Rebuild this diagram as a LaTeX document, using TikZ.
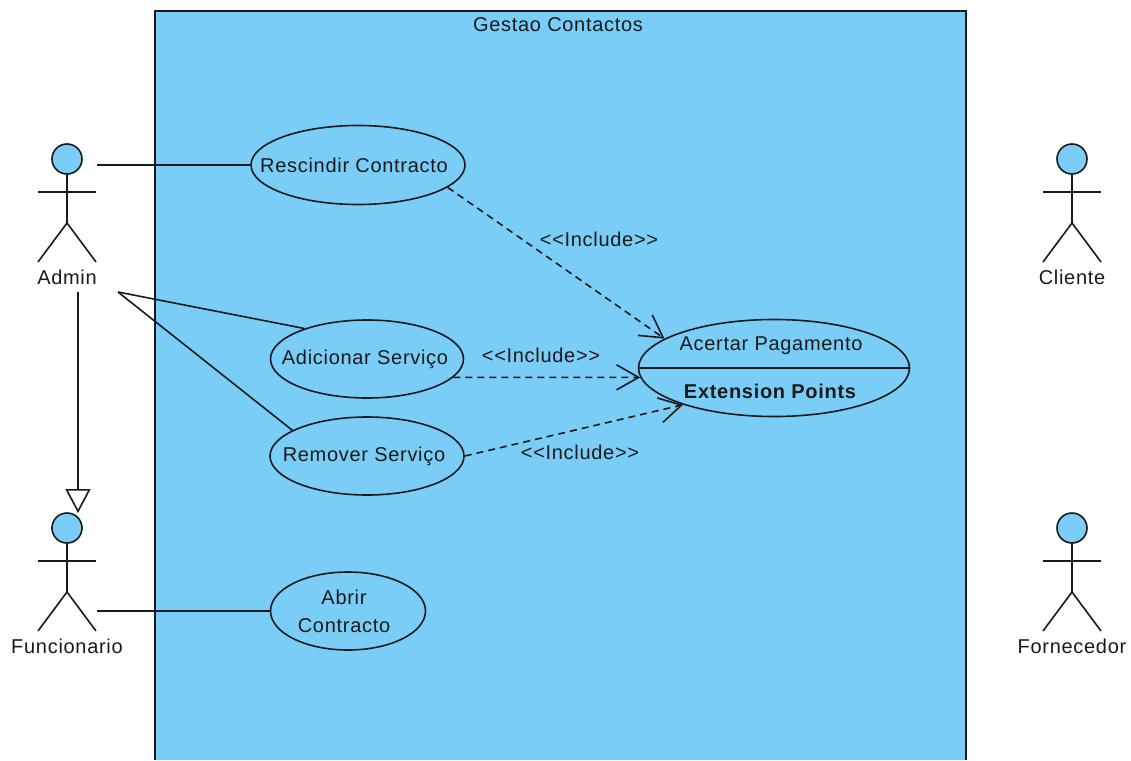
\documentclass[tikz,border=0pt]{standalone}
\usepackage{fontspec}
\setmainfont[LetterSpace=3.5]{Liberation Sans}
\usetikzlibrary{arrows.meta,shapes.geometric}
\definecolor{fillb}{HTML}{7ACDF6}
\definecolor{ink}{HTML}{1A1A1A}
\tikzset{x=1pt,y=-1pt,
 uc/.style={draw=ink,fill=fillb,ellipse,line width=1.6pt,inner sep=0pt,minimum width=#1},
 lab/.style={font=\fontsize{20pt}{23pt}\selectfont,text=ink,inner sep=0pt},
 ln/.style={draw=ink,line width=1.6pt},
 dep/.style={ln,dash pattern=on 7pt off 5pt,-{Straight Barb[length=22pt,width=25pt,line width=1.6pt]}},
 gen/.style={ln,-{Triangle[open,length=24pt,width=25pt,fill=none,line width=1.6pt]}}
}
\newcommand{\actor}[4]{%
 \coordinate (#1b) at (#2,#3+64);
 \coordinate (#1h) at (#2,#3+15);
 \coordinate (#1x) at (#2,#3+33);
 \coordinate (#1l) at (#2-29,#3+103);
 \coordinate (#1r) at (#2+29,#3+103);
 \coordinate (#1p) at (#2-29,#3+33);
 \coordinate (#1q) at (#2+29,#3+33);
 \node[draw=ink,fill=fillb,circle,line width=1.6pt,minimum size=30pt,inner sep=0pt] (#1) at (#2,#3) {};
 \draw[ln] (#1h) -- (#1b);
 \draw[ln] (#1p) -- (#1q);
 \draw[ln] (#1l) -- (#1b) -- (#1r);
 \node[lab] (#1t) at (#2,#3+118) {#4};
}
\begin{document}
\begin{tikzpicture}
\useasboundingbox (0,0) rectangle (1131,760);
\fill[white] (0,0) rectangle (1131,760);
\draw[ln,line width=2pt,fill=fillb] (155,760) -- (155,11) -- (966,11) -- (966,760);
\node[lab] (title) at (558,25) {Gestao Contactos};
\actor{admin}{67}{159}{Admin}
\actor{func}{67}{528}{Funcionario}
\actor{cli}{1072}{159}{Cliente}
\actor{forn}{1072}{528}{Fornecedor}
\coordinate (a1) at (97,165);
\coordinate (a2) at (118,292);
\coordinate (a3) at (78,292);
\coordinate (a4) at (78,513);
\coordinate (f1) at (97,611);
\node[uc=214pt,minimum height=79pt] (res) at (358,165) {};
\node[lab] (rest) at (354,165) {Rescindir Contracto};
\node[uc=193pt,minimum height=78pt] (adi) at (367,359) {};
\node[lab] (adit) at (365,359) {Adicionar Serviço};
\node[uc=194pt,minimum height=78pt] (rem) at (367,456) {};
\node[lab] (remt) at (364,456) {Remover Serviço};
\node[uc=155pt,minimum height=78pt] (abr) at (348,611) {};
\node[lab] (abrt1) at (344,597) {Abrir};
\node[lab] (abrt2) at (344,626) {Contracto};
\node[uc=271pt,minimum height=97pt] (ace) at (774,368) {};
\draw[ln] (ace.west) -- (ace.east);
\node[lab] (acet) at (771,346) {Acertar Pagamento};
\node[lab] (acex) at (770,391) {\bfseries Extension Points};
\draw[ln] (a1) -- (res.west);
\draw[ln] (a2) -- (adi.154.5);
\draw[ln] (a2) -- (rem.161.8);
\draw[gen] (a3) -- (a4);
\draw[ln] (f1) -- (abr.west);
\draw[dep] (res.-14.5) -- (ace.165.3);
\draw[dep] (adi.-12.6) -- (ace.184.3);
\draw[dep] (rem.east) -- (ace.202.8);
\node[lab] (i1) at (599,239) {<{}<Include>{}>};
\node[lab] (i2) at (541,355) {<{}<Include>{}>};
\node[lab] (i3) at (580,452) {<{}<Include>{}>};
\end{tikzpicture}
\end{document}
